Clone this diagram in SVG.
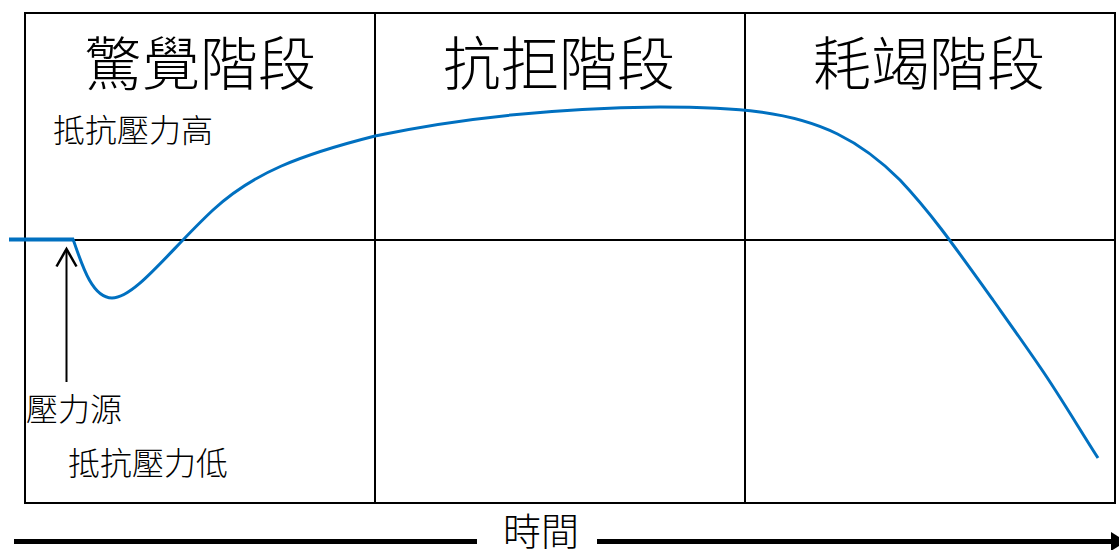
<svg xmlns="http://www.w3.org/2000/svg" width="1119" height="550" viewBox="0 0 1119 550">
<style>
.grid{fill:none;stroke:#000;stroke-width:2}
.title{font-family:"Noto Sans CJK TC","Noto Sans CJK SC",sans-serif;font-size:58px;fill:#000;text-anchor:middle;font-weight:300}
.lbl{font-family:"Noto Sans CJK TC","Noto Sans CJK SC",sans-serif;font-size:32px;fill:#000;text-anchor:middle;font-weight:300}
.curve{fill:none;stroke:#0070C0;stroke-width:3}
.axis{stroke:#000;stroke-width:5;fill:none}
</style>
<g id="grid">
<rect class="grid" x="25" y="13" width="1090" height="490"/>
<line class="grid" x1="375" y1="13" x2="375" y2="503"/>
<line class="grid" x1="745" y1="13" x2="745" y2="503"/>
<line class="grid" x1="25" y1="240" x2="1115" y2="240"/>
</g>
<g id="stage-alarm"><text class="title" x="200" y="85">驚覺階段</text></g>
<g id="stage-resistance"><text class="title" x="559" y="85">抗拒階段</text></g>
<g id="stage-exhaustion"><text class="title" x="929" y="85">耗竭階段</text></g>
<g id="label-high"><text class="lbl" x="133" y="142">抵抗壓力高</text></g>
<g id="label-source"><text class="lbl" x="74" y="421">壓力源</text></g>
<g id="label-low"><text class="lbl" x="148" y="475">抵抗壓力低</text></g>
<g id="label-time"><text class="lbl" x="541" y="545" style="font-size:38px">時間</text></g>
<g id="connectors">
<line x1="9" y1="239.5" x2="74" y2="239.5" stroke="#0070C0" stroke-width="4"/>
<path class="curve" d="M73,239 C82,265 92,298 112,298 C135,298 170,250 213,210 C253,173 300,155 375,136 C460,118 560,108 660,107 C710,107 745,110 760,112 C820,120 860,140 900,180 C930,212 950,240 993,300 C1010,324 1025,345 1040,367 C1060,396 1080,430 1098,458"/>
<line x1="66.5" y1="382" x2="66.5" y2="249" stroke="#000" stroke-width="2"/>
<polyline points="56.5,266.5 66.5,249 76.5,266.5" fill="none" stroke="#000" stroke-width="2.5"/>
<line class="axis" x1="14" y1="541.5" x2="477" y2="541.5"/>
<line class="axis" x1="597" y1="541.5" x2="1113" y2="541.5"/>
<polygon points="1111,532 1126,541.5 1111,551" fill="#000"/>
</g>
</svg>
